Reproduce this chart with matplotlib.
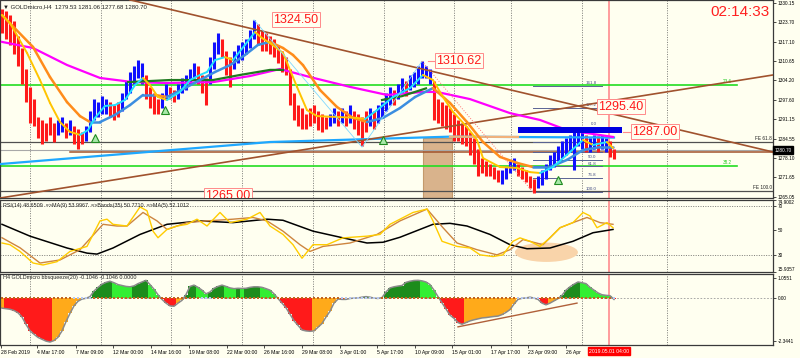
# -*- coding: utf-8 -*-
"""
GOLDmicro H4 with RSI and bbsqueeze panels
"""

import matplotlib.pyplot as plt
from matplotlib.patches import Rectangle, Ellipse
from matplotlib.transforms import blended_transform_factory

plt.rcParams['font.family'] = ['Liberation Sans', 'DejaVu Sans']

# ---- H4 bars (one per bar) ----
highs = [1328, 1327.5, 1326, 1324, 1319, 1315, 1308, 1302, 1298, 1292,
         1291, 1290, 1292, 1290, 1291, 1292, 1290, 1291, 1289, 1288,
         1287, 1289, 1294, 1298, 1297, 1299, 1298, 1297, 1296, 1297,
         1300, 1304, 1307, 1309, 1311, 1310, 1306, 1302, 1300, 1298,
         1300, 1303, 1302, 1301, 1303, 1305, 1306, 1308, 1310, 1309,
         1306, 1305, 1312, 1317, 1320, 1318, 1314, 1312, 1314, 1316,
         1317, 1318, 1321, 1324.5, 1323, 1321, 1320, 1319, 1318, 1316,
         1314, 1312, 1308, 1300, 1296, 1295, 1293, 1295, 1296, 1294,
         1293, 1292, 1293, 1295, 1294, 1295, 1294, 1296, 1294, 1293,
         1292, 1294, 1295, 1294, 1296, 1297, 1300, 1302, 1301, 1303,
         1305, 1304, 1306, 1307, 1309, 1310.6, 1309, 1308, 1304, 1298,
         1297, 1296, 1295, 1293, 1291, 1290, 1289, 1287, 1285, 1281,
         1278, 1277, 1276, 1275, 1274, 1274, 1275, 1277, 1278, 1276,
         1275, 1274, 1272, 1271, 1272, 1274, 1276, 1279, 1280, 1282,
         1284, 1285, 1286, 1287, 1288, 1287, 1286, 1285, 1286, 1285.5,
         1286, 1285, 1284, 1281.06]
lows = [1320, 1318, 1316, 1313, 1309, 1303, 1297, 1290, 1289, 1285,
        1283, 1284, 1286, 1283.5, 1286, 1287, 1285, 1286, 1283, 1281,
        1283, 1284, 1287, 1291, 1292, 1293, 1293, 1292, 1291, 1292,
        1294, 1298, 1300, 1303, 1305, 1303, 1298, 1295, 1293, 1293,
        1295, 1298, 1298, 1297, 1298, 1300, 1301, 1303, 1305, 1303,
        1300, 1296, 1303, 1308, 1313, 1312, 1306, 1302, 1308, 1310,
        1311, 1313, 1315, 1318, 1316, 1314, 1314, 1313, 1312, 1310,
        1307, 1306, 1296, 1291, 1289, 1288, 1288, 1289, 1290, 1287.5,
        1287, 1288, 1289, 1290, 1289, 1290, 1289, 1290, 1288, 1286,
        1282, 1287, 1289, 1288, 1290, 1292, 1294, 1296, 1296, 1298,
        1300, 1299, 1301, 1302, 1303, 1305, 1305, 1303, 1291, 1290,
        1289, 1288, 1287, 1284, 1284, 1283, 1282, 1279, 1276, 1272,
        1273, 1272, 1272, 1271, 1270, 1269.5, 1271, 1273, 1274, 1272,
        1271, 1270, 1268, 1266.3, 1268, 1269, 1271, 1274, 1275, 1277,
        1278, 1279, 1280, 1274, 1282, 1281, 1280, 1280, 1281, 1280,
        1281, 1280, 1278.5, 1277.68]
dirs = ("dddddddddd" "dddduududd" "duuuuuuddd" "uuuuuudddd" "uudduuuuud"
        "dduuuddduu" "uuuudddddd" "dddddddddd" "dduudududd" "dduduuuudu"
        "uduuuuuudd" "dddddddddd" "ddddduuuud" "dddduuuuuu" "uuuuuuduud"
        "uudd")

# ---- moving averages (bar index, price) ----
fast_x = [0, 2, 6.25, 9.5, 12, 14.5, 17, 19.5, 21.5, 23.25,
          25.75, 28.25, 30.75, 33.25, 35.25, 37, 39, 41.25, 44.5, 47,
          49.5, 51.25, 53.25, 55.75, 57.75, 60.75, 63.25, 65, 67, 70.25,
          73.75, 76.25, 78.75, 83.75, 88.75, 90.75, 93.75, 97.75, 102, 105.25,
          107.75, 110.25, 112.75, 116.25, 118.75, 120.25, 124.5, 128.75, 132, 134.5,
          137.75, 142, 145.25, 147.75, 151.25, 152.75]
fast_p = [1326.1, 1323.4, 1313.4, 1304.3, 1296.6, 1290.2, 1286.9, 1285.9, 1287.5, 1291.6,
          1295.6, 1295.9, 1297.6, 1302.6, 1305.0, 1302.6, 1298.6, 1297.6, 1300.3, 1304.3,
          1306.0, 1307.0, 1311.0, 1312.0, 1311.0, 1316.1, 1320.4, 1318.4, 1316.7, 1313.4,
          1302.0, 1294.2, 1292.2, 1291.9, 1291.6, 1291.2, 1294.2, 1298.6, 1301.6, 1306.0,
          1304.3, 1298.6, 1293.6, 1288.5, 1284.2, 1278.1, 1275.1, 1274.8, 1273.4, 1273.1,
          1275.1, 1280.15, 1284.2, 1282.5, 1283.5, 1281.5]
slow_x = [0, 7.75, 12, 16.25, 19.5, 22, 24.5, 28.25, 32, 35.25,
          38.25, 41.25, 45.75, 49.5, 53.25, 57, 60.75, 64, 67, 70.25,
          72.75, 75.25, 79.5, 83.75, 87.75, 91.25, 95.25, 99.5, 103.25, 107.75,
          112, 116.25, 120.25, 124.5, 128.75, 132.75, 137, 141.25, 145.25, 149.5,
          152.75]
slow_p = [1326.1, 1315.4, 1305.3, 1296.9, 1292.2, 1290.2, 1290.2, 1292.6, 1295.9, 1299.3,
          1299.3, 1298.6, 1301.6, 1304.3, 1307.0, 1309.3, 1312.7, 1316.1, 1317.1, 1315.05,
          1312.7, 1309.3, 1300.96, 1295.25, 1291.6, 1290.2, 1291.6, 1294.9, 1298.6, 1301.6,
          1296.6, 1290.2, 1283.5, 1278.5, 1276.5, 1275.1, 1275.1, 1277.5, 1280.8, 1281.8,
          1281.8]
pink_x = [0, 7.75, 16.25, 24.5, 32.75, 41.25, 52.75, 62, 69.5, 77,
          87, 96.25, 105.25, 108.75, 117, 127, 134.5, 141.25, 152.75]
pink_p = [1317.1, 1315.05, 1309.35, 1305.0, 1303.6, 1303.3, 1303.6, 1305.65, 1308.0, 1305.3,
          1302.0, 1299.3, 1300.3, 1300.3, 1297.9, 1293.2, 1290.9, 1287.5, 1285.2]
green1_x = [31.5, 42, 52.75, 59.5, 67, 70.25]
green1_p = [1303.6, 1304.3, 1304.3, 1306.0, 1307.7, 1307.7]
green2_x = [95, 100, 106]
green2_p = [1297.6, 1298.9, 1301.5]
sky_x = [-0.5, 67, 112, 153]
sky_p = [1276.1, 1283.5, 1285.3, 1285.0]
peach_x = [112, 129]
peach_p = [1285.3, 1285.2]

# ---- drawn objects ----
lime_levels = [1302.6, 1275.45]
lime_names = ["23.6", "38.2"]
fe_levels = [1283.6, 1266.9]
fe_names = ["FE 61.8", "FE 100.0"]
bid = 1280.70
brown_level = 1280.15
trend_up_x, trend_up_p = [-0.5, 192.75], [1264.7, 1306.0]
trend_dn_x, trend_dn_p = [32, 192.75], [1331.2, 1280.15]
fib_names = ["161.8", "127.2", "0.0", "23.6", "38.2", "50.0", "61.8", "76.8", "100.0"]
fib_p = [1302.4, 1294.9, 1288.5, 1283.4, 1280.2, 1277.6, 1275.3, 1271.5, 1266.7]
tags = ["1324.50", "1310.62", "1295.40", "1287.00", "1265.00"]
tag_x = [73.5, 114.25, 154.75, 163.25, 56.5]
tag_p = [1324.6, 1310.7, 1295.4, 1286.9, 1265.4]
arrow_x = [23.25, 40.75, 95.25, 139]
arrow_p = [1284.8, 1294.2, 1284.2, 1270.8]
zig_x = [63, 90, 105]
zig_p = [1324.5, 1281.8, 1310.6]

# ---- RSI panel ----
rsi_x = [0, 2, 4.5, 7.75, 10.25, 13.75, 17, 21.25, 24.5, 26.25,
         27.75, 31.25, 34.5, 36.25, 37.75, 39, 41.25, 43.75, 46.25, 48.75,
         51.25, 54.5, 57, 61.25, 64.5, 67, 70.25, 72.75, 75, 77.75,
         81.25, 85.25, 91.25, 94.5, 97, 99.5, 102.75, 106.25, 107.75, 110,
         113.75, 117, 119.5, 122.75, 125.25, 127.75, 129.5, 132, 134.5, 137,
         139.5, 142.75, 145.25, 147, 148.75, 151.25, 152.75]
rsi_v = [39.7, 38.3, 32.8, 23.3, 21.7, 24.4, 32.8, 36.9, 57.8, 59.2,
         55, 53.6, 69.2, 66.1, 49.4, 44, 50.8, 53.6, 55, 59.2,
         53.6, 64.7, 56.4, 59.2, 64.7, 53.6, 46.7, 38.3, 27.2, 38.3,
         38.3, 43.9, 45.3, 46.7, 55, 59.2, 64.7, 67.5, 57.8, 41.1,
         36.9, 35.6, 30, 28.6, 30, 41.1, 43.9, 41.1, 36.9, 43.9,
         52.2, 56.4, 64.7, 61.9, 52.2, 56.4, 52.2]
rsima_x = [0, 4.5, 9.5, 14.5, 19.5, 25.25, 28.75, 31.25, 35.25, 38.75,
           41.25, 46.25, 51.25, 57.75, 62.75, 66.25, 70.25, 74.5, 77, 80.25,
           87, 93.75, 99.5, 106.25, 110.25, 113.75, 118.75, 123.75, 127, 130.25,
           135.25, 139.5, 142.75, 146.25, 149.5, 152.75]
rsima_v = [44, 35.8, 23.3, 25.8, 34.2, 55, 53.6, 53.6, 64.7, 57.8,
           50.8, 56.4, 57.8, 59.2, 60.6, 57.8, 49.4, 38.3, 32.8, 36.9,
           39.7, 46.7, 57.8, 67.5, 52.2, 39.7, 34.2, 30, 34.2, 42.5,
           38.3, 52.2, 56.4, 60.6, 56.4, 55]
band_x = [0, 7, 16.25, 21.25, 23.75, 27.75, 34.5, 41.25, 49.5, 57.75,
          66.25, 70.25, 77.75, 85.25, 91.25, 95.25, 99.5, 107.75, 112, 116.25,
          122, 127, 131.25, 137, 142.75, 147.75, 152.75]
band_v = [55, 45.3, 35.6, 31.4, 30.6, 35.6, 46.7, 55, 57.8, 56.4,
          59.2, 58.3, 49.4, 43.9, 39.7, 40.3, 44.4, 55, 55.8, 53.6,
          46.7, 38.3, 35, 35.6, 41.1, 48.1, 50.8]

# ---- bbsqueeze momentum (one per bar) ----
mom = [-0.57, -0.6, -0.63, -0.7, -0.82, -1.05, -1.45, -1.79, -1.98, -2.15,
       -2.25, -2.35, -2.4, -2.32, -2.14, -1.8, -1.3, -0.85, -0.45, -0.2,
       -0.08, -0.04, 0.05, 0.35, 0.55, 0.72, 0.82, 0.88, 0.8, 0.7,
       0.65, 0.6, 0.58, 0.63, 0.75, 0.84, 0.93, 0.7, 0.45, 0.15,
       -0.1, -0.3, -0.45, -0.47, -0.3, -0.15, 0.16, 0.6, 0.67, 0.55,
       0.4, 0.2, 0.3, 0.5, 0.6, 0.67, 0.6, 0.52, 0.48, 0.5,
       0.49, 0.5, 0.55, 0.58, 0.58, 0.55, 0.48, 0.4, 0.2, -0.05,
       -0.3, -0.55, -0.9, -1.25, -1.5, -1.75, -1.8, -1.82, -1.8, -1.6,
       -1.4, -1.05, -0.74, -0.3, -0.08, -0.1, -0.1, -0.05, -0.03, -0.02,
       0.02, 0.05, 0.02, -0.03, -0.05, 0.0, 0.3, 0.52, 0.58, 0.62,
       0.65, 0.82, 0.88, 0.92, 0.93, 0.9, 0.84, 0.7, 0.4, 0.05,
       -0.28, -0.6, -0.95, -1.12, -1.35, -1.44, -1.35, -1.26, -1.2, -1.15,
       -1.1, -1.08, -1.05, -1.02, -1.0, -0.92, -0.8, -0.65, -0.35, -0.1,
       -0.04, -0.02, 0.02, -0.03, -0.1, -0.3, -0.39, -0.3, -0.18, -0.06,
       0.12, 0.4, 0.58, 0.72, 0.84, 0.8, 0.75, 0.55, 0.4, 0.25,
       0.15, 0.12, 0.1, -0.1]
squeeze_off = [(18, 22), (50, 52), (85, 94), (129, 134), (153, 153)]
mom_trend_x, mom_trend_v = [114, 143.75], [-1.58, -0.3]

# ---- axis labels ----
price_ticks = [1330.15, 1323.70, 1317.10, 1310.65, 1304.20, 1297.60,
               1291.15, 1284.55, 1278.10, 1271.65, 1265.05]
rsi_ticks = [15.9357, 30, 50, 70, 74.9002]
rsi_lbls = ['15.9357', '30', '50', '70', '74.9002']
mom_ticks = [-2.3441, 0, 1.0551]
mom_lbls = ['-2.3441', '0.00', '1.0551']
date_x = [-0.25, 8.75, 18.5, 27.75, 37.25, 46.75, 56.25, 65.5, 75, 84.5,
          93.75, 103.25, 112.5, 122.25, 131.5, 141]
date_lbls = ['28 Feb 2019', '4 Mar 17:00', '7 Mar 09:00', '12 Mar 00:00',
             '14 Mar 16:00', '19 Mar 08:00', '22 Mar 00:00', '26 Mar 16:00',
             '29 Mar 08:00', '3 Apr 01:00', '5 Apr 17:00', '10 Apr 09:00',
             '15 Apr 01:00', '17 Apr 17:00', '23 Apr 09:00', '26 Apr']
grid_x = [7, 24.75, 42.25, 60, 77.75, 95.5, 113, 127.25, 145, 166.25]
now_x = 151.75

BG = '#fffff0'
N = len(highs)


def colored_line(ax, xs, ps, up_c, dn_c, lw):
    # MT4 style two colour MA: colour by slope
    for i in range(len(xs) - 1):
        c = up_c if ps[i + 1] >= ps[i] else dn_c
        ax.plot(xs[i:i + 2], ps[i:i + 2], color=c, lw=lw,
                solid_capstyle='round', zorder=4)


fig = plt.figure(figsize=(8, 3.58), dpi=100, facecolor=BG)
ax1 = fig.add_axes([0.0, 0.4469, 0.96625, 0.5531])
ax2 = fig.add_axes([0.0, 0.2402, 0.96625, 0.2011])
ax3 = fig.add_axes([0.0, 0.0363, 0.96625, 0.1983])

for ax in (ax1, ax2, ax3):
    ax.set_facecolor(BG)
    ax.set_xlim(-0.5, 192.75)
    ax.yaxis.tick_right()
    ax.tick_params(axis='y', labelsize=3.4, length=2, width=0.5, pad=1.2)
    for s in ax.spines.values():
        s.set_color('#3a3a3a')
        s.set_linewidth(0.9)
    for gx in grid_x:
        ax.axvline(gx, color='#505050', ls=(0, (1.5, 2)), lw=0.5, zorder=0.5)
    ax.axvline(now_x, color='#ff9c9c', lw=1.4, zorder=1)
ax1.set_xticks([])
ax2.set_xticks([])

# ---------------- main price panel ----------------
ax1.set_ylim(1264.71, 1331.16)
ax1.set_yticks(price_ticks, labels=['%.2f' % t for t in price_ticks])

for lv, nm in zip(lime_levels, lime_names):
    ax1.plot([-0.5, 183.75], [lv, lv], color='#22dd22', lw=1.2, zorder=2)
    ax1.text(181.25, lv + 0.3, nm, fontsize=3.3, color='#22cc22', ha='center', va='bottom')
for lv, nm in zip(fe_levels, fe_names):
    ax1.axhline(lv, color='#505050', lw=0.9, zorder=2)
    ax1.text(192.5, lv + 0.4, nm, fontsize=3.4, color='#202020', ha='right', va='bottom')
ax1.axhline(bid, color='#a8a8a8', lw=0.8, zorder=2)
ax1.plot([17, 192.75], [brown_level, brown_level], color='#a0522d', lw=1.1, zorder=2)

ax1.add_patch(Rectangle((105.25, 1264.7), 7.25, 20.15, fc='#d9b38c', ec='#c49a6c',
                        lw=0.8, zorder=1.5))

for nm, lv in zip(fib_names, fib_p):
    ax1.plot([132.75, 150], [lv, lv], color='#5a6494', lw=0.7, zorder=2.2)
    ax1.text(148.6, lv + 0.3, nm, fontsize=3.2, color='#404a80', ha='right', va='bottom', zorder=2.3)

ax1.plot(trend_up_x, trend_up_p, color='#a0522d', lw=1.2, zorder=3.5)
ax1.plot(trend_dn_x, trend_dn_p, color='#a0522d', lw=1.2, zorder=3.5)

bar_cols = ['#1010ff' if d == 'u' else '#ff1a1a' for d in dirs]
ax1.vlines(range(N), lows, highs, colors=bar_cols, lw=2.2, zorder=3)

ax1.plot(sky_x, sky_p, color='#1ea8ff', lw=1.6, zorder=3.2)
ax1.plot(peach_x, peach_p, color='#f2b27a', lw=1.6, zorder=3.3)
ax1.plot(pink_x, pink_p, color='#ff00ff', lw=1.6, zorder=3.6)
ax1.plot(green1_x, green1_p, color='#1f7a1f', lw=1.6, zorder=3.7)
ax1.plot(green2_x, green2_p, color='#1f7a1f', lw=1.6, zorder=3.7)
colored_line(ax1, slow_x, slow_p, '#3c8ee0', '#ff8c1a', 1.8)
colored_line(ax1, fast_x, fast_p, '#22e0ff', '#ffc400', 1.4)

ax1.plot(zig_x, zig_p, color='#7fd8ff', lw=0.6, zorder=4.2)
ax1.plot([105, 133], [1310.6, 1266.3], color='#ff7070', lw=0.7, ls=':', zorder=4.2)
ax1.plot(arrow_x, arrow_p, ls='none', marker='^', ms=5.5, mfc='#a8e8a8',
         mec='#1f8a1f', mew=0.8, zorder=4.5)

ax1.add_patch(Rectangle((129, 1286.5), 26, 2.0, fc='#0000e0', ec='none', zorder=5))

for t, x, p in zip(tags, tag_x, tag_p):
    ax1.text(x, p, t, fontsize=9, color='#ff1a1a', ha='center', va='center', zorder=7,
             clip_on=True,
             bbox=dict(boxstyle='square,pad=0.12', fc=BG, ec='#ff8a8a', lw=0.7))
ax1.plot([106.5, 108.5], [1310.7, 1310.7], color='#ff8a8a', lw=0.8, zorder=6)
ax1.plot([155.3, 157.6], [1286.9, 1286.9], color='#ff8a8a', lw=0.8, zorder=6)

ax1.text(0.004, 0.967, u'\u25bc GOLDmicro,H4  1279.53 1281.06 1277.68 1280.70',
         transform=ax1.transAxes, fontsize=4.3, color='#202020', va='center', zorder=8)
ax1.text(0.996, 0.975, '02:14:33', transform=ax1.transAxes, fontsize=11,
         color='#ff2020', ha='right', va='top', zorder=8)
ax1.text(1.002, bid, '1280.70', transform=blended_transform_factory(ax1.transAxes, ax1.transData),
         fontsize=3.4, color='white', ha='left', va='center', zorder=8, clip_on=False,
         bbox=dict(boxstyle='square,pad=0.3', fc='black', ec='black'))

# ---------------- RSI panel ----------------
ax2.set_ylim(15.9357, 74.9002)
ax2.set_yticks(rsi_ticks, labels=rsi_lbls)
lbls = ax2.get_yticklabels()
lbls[0].set_va('bottom')
lbls[-1].set_va('top')
ax2.axhline(70, color='#505050', ls=(0, (1.5, 2)), lw=0.5, zorder=0.5)
ax2.axhline(30, color='#505050', ls=(0, (1.5, 2)), lw=0.5, zorder=0.5)
ax2.add_patch(Ellipse((136.1, 32.1), 15.75, 15.8, fc='#f9d4aa', ec='none', zorder=1.2))
ax2.plot(band_x, band_v, color='black', lw=1.1, zorder=3)
ax2.plot(rsima_x, rsima_v, color='#cd853f', lw=1.0, zorder=3.2)
ax2.plot(rsi_x, rsi_v, color='#ffcc00', lw=1.0, zorder=3.4)
ax2.text(0.004, 0.93, 'RSI(14) 48.6509  =>MA(9) 53.9967  =>Bands(35) 50.7710  =>MA(5) 52.1012',
         transform=ax2.transAxes, fontsize=3.9, color='#202020', va='center', zorder=8)

# ---------------- bbsqueeze panel ----------------
ax3.set_ylim(-2.56, 1.27)
ax3.set_yticks(mom_ticks, labels=mom_lbls)
ax3.axhline(0, color='#9a9a9a', ls=(0, (2, 2)), lw=0.6, zorder=0.6)
hist_cols = []
for i, v in enumerate(mom):
    prev = mom[i - 1] if i > 0 else v
    if v >= 0:
        hist_cols.append('#1c8c1c' if v >= prev else '#33ee33')
    else:
        hist_cols.append('#ff1a1a' if v < prev else '#ffaa1a')
ax3.bar(range(N), mom, width=0.8, color=hist_cols, zorder=2)
ax3.plot(range(N), mom, color='#8a8a8a', lw=1.1, zorder=2.5)
dot_cols = []
for i in range(N):
    off = any(a <= i <= b for a, b in squeeze_off)
    dot_cols.append('#b8c8f0' if off else '#c0641e')
ax3.scatter(range(N), [0] * N, s=2.2, c=dot_cols, marker='s', lw=0, zorder=3)
ax3.plot(mom_trend_x, mom_trend_v, color='#b0603a', lw=1.0, zorder=3)
ax3.text(0.004, 0.944, 'H4 GOLDmicro bbsqueeze(20) -0.1046 -0.1046 0.0000',
         transform=ax3.transAxes, fontsize=3.9, color='#202020', va='center', zorder=8)

ax3.set_xticks(date_x, labels=date_lbls)
for lb in ax3.get_xticklabels():
    lb.set_ha('left')
ax3.tick_params(axis='x', labelsize=3.7, length=2, width=0.5, pad=1.5)
ax3.text(now_x, -0.085, '2019.05.01 04:00',
         transform=blended_transform_factory(ax3.transData, ax3.transAxes),
         fontsize=3.7, color='white', ha='center', va='center', zorder=10, clip_on=False,
         bbox=dict(boxstyle='square,pad=0.25', fc='#ff0000', ec='#ff0000'))

fig.savefig('out.png', dpi=100, facecolor=BG)
